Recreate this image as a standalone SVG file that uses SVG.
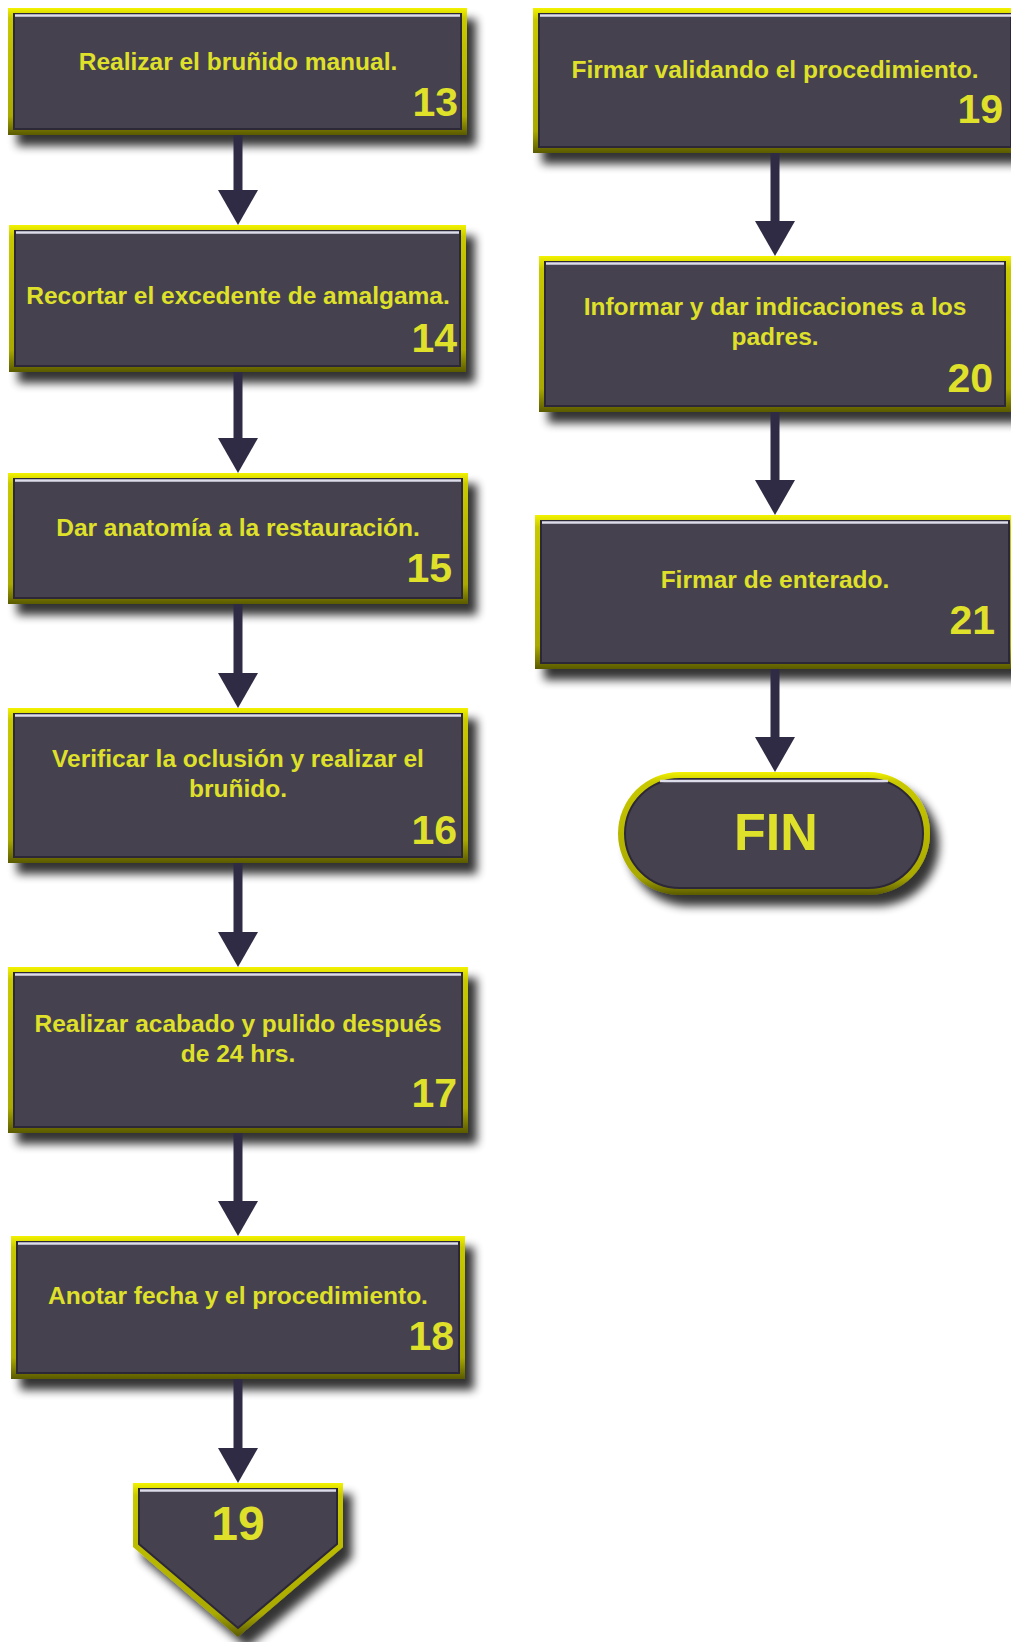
<svg xmlns="http://www.w3.org/2000/svg" width="1011" height="1642" viewBox="0 0 1011 1642">
<style>
.txt{font-family:"Liberation Sans",Arial,sans-serif;font-weight:bold;font-size:24.5px;fill:#dfe02a;text-anchor:middle}
.num{font-family:"Liberation Sans",Arial,sans-serif;font-weight:bold;font-size:41px;fill:#dfe02a;text-anchor:end}
.big{font-family:"Liberation Sans",Arial,sans-serif;font-weight:bold;font-size:52px;fill:#dfe02a;text-anchor:middle}
.outer{fill:url(#yel);filter:url(#sh)}
.inner{fill:#46414f;stroke:#2c2838;stroke-width:2}
.hl{stroke:#dcdcea;stroke-width:2.5}
.conn{stroke:#302b45;stroke-width:9;fill:none;marker-end:url(#ah)}
</style>
<defs>
<linearGradient id="yel" x1="0" y1="0" x2="0" y2="1">
<stop offset="0" stop-color="#f2f200"/>
<stop offset="0.08" stop-color="#c9c900"/>
<stop offset="0.85" stop-color="#a9a900"/>
<stop offset="1" stop-color="#5a5a00"/>
</linearGradient>
<filter id="sh" x="-10%" y="-10%" width="125%" height="140%">
<feGaussianBlur in="SourceAlpha" stdDeviation="5"/>
<feOffset dx="9" dy="11" result="b"/>
<feComponentTransfer><feFuncA type="linear" slope="0.8"/></feComponentTransfer>
<feMerge><feMergeNode/><feMergeNode in="SourceGraphic"/></feMerge>
</filter>
<marker id="ah" markerUnits="userSpaceOnUse" viewBox="0 -20 35 40" markerWidth="35" markerHeight="40" refX="10" refY="0" orient="auto">
<path d="M0,-20 L35,0 L0,20 Z" fill="#302b45"/>
</marker>
</defs>

<g id="n13">
<rect class="outer" x="8" y="8" width="459" height="127"/>
<rect class="inner" x="14" y="14" width="447" height="115"/>
<line class="hl" x1="15" y1="15.5" x2="460" y2="15.5"/>
<text class="txt" x="238" y="70">Realizar el bruñido manual.</text>
<text class="num" x="458" y="116">13</text>
</g>
<g id="n14">
<rect class="outer" x="9" y="225" width="457" height="147"/>
<rect class="inner" x="15" y="231" width="445" height="135"/>
<line class="hl" x1="16" y1="232.5" x2="459" y2="232.5"/>
<text class="txt" x="238" y="304">Recortar el excedente de amalgama.</text>
<text class="num" x="457" y="352">14</text>
</g>
<g id="n15">
<rect class="outer" x="8" y="473" width="460" height="131"/>
<rect class="inner" x="14" y="479" width="448" height="119"/>
<line class="hl" x1="15" y1="480.5" x2="461" y2="480.5"/>
<text class="txt" x="238" y="536">Dar anatomía a la restauración.</text>
<text class="num" x="452" y="582">15</text>
</g>
<g id="n16">
<rect class="outer" x="8" y="708" width="460" height="155"/>
<rect class="inner" x="14" y="714" width="448" height="143"/>
<line class="hl" x1="15" y1="715.5" x2="461" y2="715.5"/>
<text class="txt" x="238" y="767">Verificar la oclusión y realizar el</text>
<text class="txt" x="238" y="797">bruñido.</text>
<text class="num" x="457" y="844">16</text>
</g>
<g id="n17">
<rect class="outer" x="8" y="967" width="460" height="166"/>
<rect class="inner" x="14" y="973" width="448" height="154"/>
<line class="hl" x1="15" y1="974.5" x2="461" y2="974.5"/>
<text class="txt" x="238" y="1032">Realizar acabado y pulido después</text>
<text class="txt" x="238" y="1062">de 24 hrs.</text>
<text class="num" x="457" y="1107">17</text>
</g>
<g id="n18">
<rect class="outer" x="11" y="1236" width="454" height="143"/>
<rect class="inner" x="17" y="1242" width="442" height="131"/>
<line class="hl" x1="18" y1="1243.5" x2="458" y2="1243.5"/>
<text class="txt" x="238" y="1304">Anotar fecha y el procedimiento.</text>
<text class="num" x="454" y="1350">18</text>
</g>
<g id="off19">
<polygon class="outer" points="133,1483 343,1483 343,1547 238,1637 133,1547"/>
<polygon class="inner" points="139,1489 337,1489 337,1544 238,1628 139,1544"/>
<line class="hl" x1="140" y1="1490.5" x2="336" y2="1490.5"/>
<text class="big" x="238" y="1540" style="font-size:48px">19</text>
</g>

<g id="n19">
<rect class="outer" x="533" y="8" width="484" height="145"/>
<rect class="inner" x="539" y="14" width="472" height="133"/>
<line class="hl" x1="540" y1="15.5" x2="1011" y2="15.5"/>
<text class="txt" x="775" y="78">Firmar validando el procedimiento.</text>
<text class="num" x="1003" y="123">19</text>
</g>
<g id="n20">
<rect class="outer" x="539" y="256" width="472" height="156"/>
<rect class="inner" x="545" y="262" width="460" height="144"/>
<line class="hl" x1="546" y1="263.5" x2="1004" y2="263.5"/>
<text class="txt" x="775" y="315">Informar y dar indicaciones a los</text>
<text class="txt" x="775" y="345">padres.</text>
<text class="num" x="993" y="392">20</text>
</g>
<g id="n21">
<rect class="outer" x="535" y="515" width="480" height="154"/>
<rect class="inner" x="541" y="521" width="468" height="142"/>
<line class="hl" x1="542" y1="522.5" x2="1008" y2="522.5"/>
<text class="txt" x="775" y="588">Firmar de enterado.</text>
<text class="num" x="995" y="634">21</text>
</g>
<g id="fin">
<rect class="outer" x="618" y="772" width="312" height="123" rx="61.5"/>
<rect class="inner" x="625" y="779" width="298" height="109" rx="54.5"/>
<path class="hl" d="M660,781 L888,781" fill="none"/>
<text class="big" x="776" y="850">FIN</text>
</g>

<g id="connectors">
<line class="conn" x1="238" y1="135" x2="238" y2="200"/>
<line class="conn" x1="238" y1="372" x2="238" y2="448"/>
<line class="conn" x1="238" y1="604" x2="238" y2="683"/>
<line class="conn" x1="238" y1="863" x2="238" y2="942"/>
<line class="conn" x1="238" y1="1133" x2="238" y2="1211"/>
<line class="conn" x1="238" y1="1379" x2="238" y2="1458"/>
<line class="conn" x1="775" y1="153" x2="775" y2="231"/>
<line class="conn" x1="775" y1="412" x2="775" y2="490"/>
<line class="conn" x1="775" y1="669" x2="775" y2="747"/>
</g>
</svg>
